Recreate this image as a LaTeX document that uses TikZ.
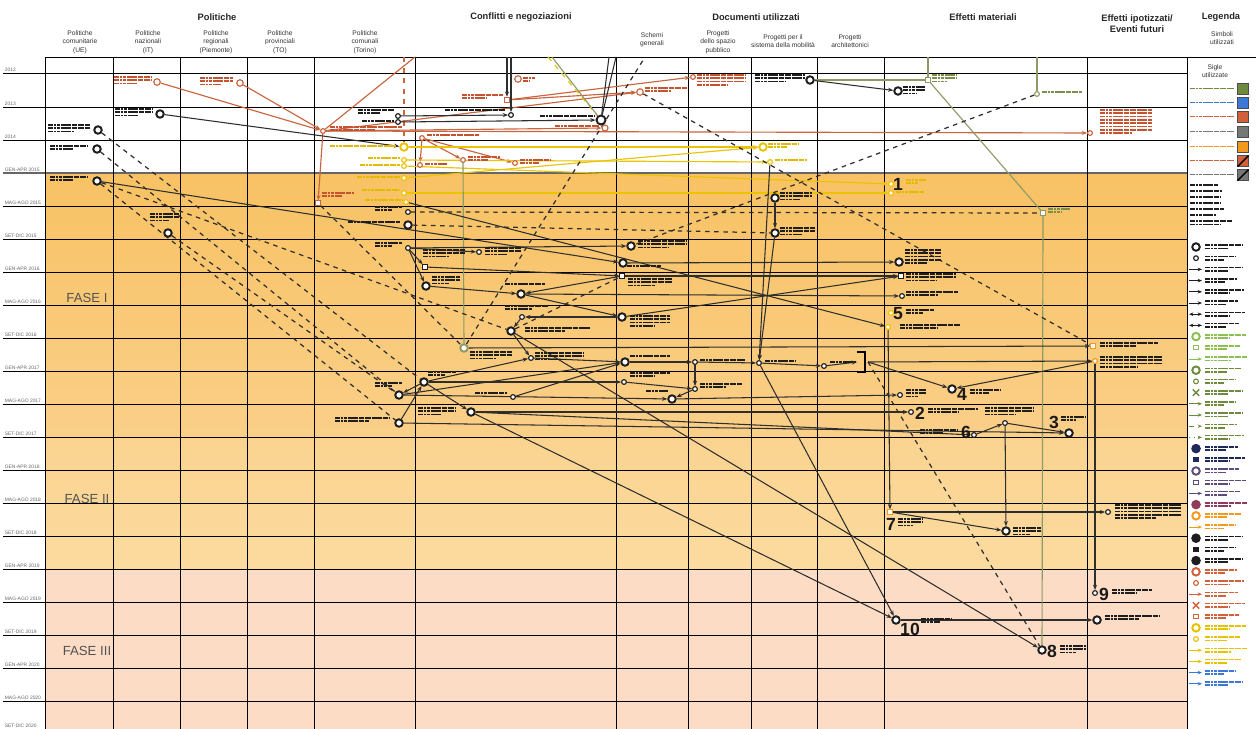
\documentclass[tikz,border=0pt]{standalone}
\usepackage{fontspec}
\setmainfont{Liberation Sans}
\usetikzlibrary{arrows.meta,shapes.misc}
\pgfdeclarelayer{back}\pgfdeclarelayer{mid}\pgfsetlayers{back,mid,main}
\definecolor{cline}{HTML}{2E2E2E}
\definecolor{cred}{HTML}{C9653E}
\definecolor{cyel}{HTML}{EBC300}
\definecolor{coli}{HTML}{8E9B66}
\definecolor{tblk}{HTML}{1E1E1E}
\definecolor{tred}{HTML}{C4532F}
\definecolor{tyel}{HTML}{E2BA00}
\definecolor{toli}{HTML}{7C8F4A}
\definecolor{Lk}{HTML}{1E1E1E}
\definecolor{Lg}{HTML}{8CC152}
\definecolor{Og}{HTML}{6E8B3D}
\definecolor{Nv}{HTML}{1F2A5A}
\definecolor{Pu}{HTML}{5E4A7A}
\definecolor{Mv}{HTML}{8E3B5E}
\definecolor{Or}{HTML}{F39A1E}
\definecolor{Rd}{HTML}{D2603A}
\definecolor{Yw}{HTML}{E8C200}
\definecolor{Bl}{HTML}{3B78D8}
\definecolor{Gy}{HTML}{777777}
\definecolor{faA}{HTML}{F8C264}
\definecolor{faB}{HTML}{FACF88}
\definecolor{fbA}{HTML}{FAD38F}
\definecolor{fbB}{HTML}{FCDBA0}
\definecolor{fc}{HTML}{FDDCC6}
\tikzset{
 bc/.style={circle, draw=tblk, fill=white, line width=1.1pt, minimum size=0.15cm, inner sep=0pt},
 sc/.style={circle, draw=tblk, fill=white, line width=0.65pt, minimum size=0.095cm, inner sep=0pt},
 sq/.style={rectangle, draw=tblk, fill=white, line width=0.65pt, minimum size=0.085cm, inner sep=0pt},
 rd/.style={draw=cred}, yl/.style={draw=cyel}, ol/.style={draw=coli},
 con/.style={draw=cline, line width=0.6pt},
 arr/.style={con, -{Stealth[length=3pt,width=2.3pt]}},
 dsh/.style={con, line width=0.7pt, dash pattern=on 2.6pt off 2.6pt},
 rcon/.style={draw=cred, line width=0.65pt},
 rarr/.style={rcon, -{Stealth[length=3pt,width=2.3pt]}},
 ycon/.style={draw=cyel, line width=0.65pt},
 yarr/.style={ycon, -{Stealth[length=3pt,width=2.3pt]}},
 ocon/.style={draw=coli, line width=0.65pt},
 blobst/.style={line width=1.0pt, dash pattern=on 3pt off 0.35pt on 1.2pt off 0.35pt on 2pt off 0.35pt on 4pt off 0.35pt on 1.6pt off 0.35pt},
 num/.style={font=\bfseries\fontsize{10}{10}\selectfont, text=black!90, inner sep=0pt},
 hdr/.style={font=\bfseries\fontsize{5.3}{6.6}\selectfont, text=black!85, inner sep=0pt, align=center},
 sub/.style={font=\fontsize{3.8}{4.8}\selectfont, align=center, text=black!80, inner sep=0pt},
 rowl/.style={font=\fontsize{2.8}{3}\selectfont, text=black!60, anchor=south west, inner sep=0.3pt},
 fase/.style={font=\fontsize{7.5}{8}\selectfont, text=black!68, inner sep=0pt},
 gridl/.style={draw=black, line width=0.55pt},
 sw/.style={rectangle, draw=black!70, line width=0.4pt, minimum size=0.21cm, inner sep=0pt},
 pics/Lbc/.style={code={\node[bc,draw=#1] (-n) at (0,0) {};}},
 pics/Lsc/.style={code={\node[sc,draw=#1] (-n) at (0,0) {};}},
 pics/Lsq/.style={code={\node[sq,draw=#1] (-n) at (0,0) {};}},
 pics/Lfc/.style={code={\node[bc,draw=#1,fill=#1] (-n) at (0,0) {};}},
 pics/Lfs/.style={code={\node[sq,draw=#1,fill=#1] (-n) at (0,0) {};}},
 pics/Lx/.style={code={\node[cross out,draw=#1,line width=0.8pt,minimum size=0.1cm,inner sep=0pt] (-n) at (0,0) {};}},
 pics/Lar/.style={code={\coordinate (-a) at (-7,0); \coordinate (-b) at (6,0); \draw[draw=#1,line width=0.55pt,-{Stealth[length=2.5pt,width=2pt]}] (-a) -- (-b);}},
 pics/Lda/.style={code={\coordinate (-a) at (-7,0); \coordinate (-b) at (6,0); \draw[draw=#1,line width=0.55pt,{Stealth[length=2.5pt,width=2pt]}-{Stealth[length=2.5pt,width=2pt]}] (-a) -- (-b);}},
 pics/Lds/.style={code={\coordinate (-a) at (-7,0); \coordinate (-b) at (6,0); \draw[draw=#1,line width=0.55pt,dashed,-{Stealth[length=2.5pt,width=2pt]}] (-a) -- (-b);}},
 pics/Ldt/.style={code={\coordinate (-a) at (-7,0); \coordinate (-b) at (6,0); \draw[draw=#1,line width=0.55pt,dotted,-{Stealth[length=2.5pt,width=2pt]}] (-a) -- (-b);}},
}
\newcommand\tb[5]{\foreach \kk in {1,...,#4}{\pgfmathsetmacro\ww{ifthenelse(and(\kk==#4,#4>1),0.62*(#3),#3)}\draw[blobst,draw=#5] (#1,{#2+3.3*(\kk-1)}) -- ++(\ww,0);}}
\begin{document}
\begin{tikzpicture}[x=0.02cm,y=-0.02cm]
\useasboundingbox (0,0) rectangle (1256,729);
\begin{pgfonlayer}{back}
\fill[white] (0,0) rectangle (1256,729);
\shade[top color=faA, bottom color=faB] (45,173) rectangle (1187,437);
\shade[top color=fbA, bottom color=fbB] (45,437) rectangle (1187,569);
\fill[fc] (45,569) rectangle (1187,729);
% grid
\draw[gridl] (45,57) -- (1256,57);
\foreach \yy in {73,107,140} {\draw[gridl] (3,\yy) -- (1187,\yy);}
\draw[draw=black!60, line width=1pt] (3,173) -- (1187,173);
\foreach \k in {1,...,16} {\draw[gridl] (3,{173+33*\k}) -- (1187,{173+33*\k});}
\foreach \xx in {45,113,180,247,314,415,616,688,751,817,884,1087,1187} {\draw[gridl] (\xx,57) -- (\xx,729);}
\end{pgfonlayer}
% headers
\node[hdr] (hP) at (217,17) {Politiche};
\node[hdr] (hC) at (521,17) {Conflitti e negoziazioni};
\node[hdr] (hD) at (756,17) {Documenti utilizzati};
\node[hdr] (hE) at (983,17) {Effetti materiali};
\node[hdr] (hF) at (1137,23.5) {Effetti ipotizzati/\\Eventi futuri};
\node[hdr] (hL) at (1221,17) {Legenda};
\node[sub] (s01) at (80,42) {Politiche\\comunitarie\\(UE)};
\node[sub] (s02) at (148,42) {Politiche\\nazionali\\(IT)};
\node[sub] (s03) at (216,42) {Politiche\\regionali\\(Piemonte)};
\node[sub] (s04) at (280,42) {Politiche\\provinciali\\(TO)};
\node[sub] (s05) at (365,42) {Politiche\\comunali\\(Torino)};
\node[sub] (s06) at (652,40) {Schemi\\generali};
\node[sub] (s07) at (718,42) {Progetti\\dello spazio\\pubblico};
\node[sub] (s08) at (783,41) {Progetti per il\\sistema della mobilità};
\node[sub] (s09) at (850,41) {Progetti\\architettonici};
\node[sub] (s10) at (1222,38) {Simboli\\utilizzati};
\node[sub] (s11) at (1215,71) {Sigle\\utilizzate};
% row labels
\foreach \yy/\lab [count=\j] in {73/2012,107/2013,140/2014,173/GEN-APR 2015,206/MAG-AGO 2015,239/SET-DIC 2015,272/GEN-APR 2016,305/MAG-AGO 2016,338/SET-DIC 2016,371/GEN-APR 2017,404/MAG-AGO 2017,437/SET-DIC 2017,470/GEN-APR 2018,503/MAG-AGO 2018,536/SET-DIC 2018,569/GEN-APR 2019,602/MAG-AGO 2019,635/SET-DIC 2019,668/GEN-APR 2020,701/MAG-AGO 2020,729/SET-DIC 2020}
 {\node[rowl] (rl\j) at (4,\yy-0.6) {\lab};}
\node[fase] (fa1) at (87,298) {FASE I};
\node[fase] (fa2) at (87,499) {FASE II};
\node[fase] (fa3) at (87,651) {FASE III};
% ---------- top area nodes
\node[bc] (u1) at (98,130) {}; \tb{48}{125}{42}{3}{tblk}
\node[bc] (u2) at (97,149) {}; \tb{50}{146}{38}{2}{tblk}
\node[bc] (u3) at (97,181) {}; \tb{50}{177}{38}{2}{tblk}
\node[sc,rd,minimum size=0.13cm] (i1) at (157,82) {}; \tb{114}{77}{38}{3}{tred}
\node[bc] (i2) at (160,114) {}; \tb{115}{109}{38}{3}{tblk}
\node[bc] (i3) at (168,233) {}; \tb{150}{214}{30}{3}{tblk}
\node[sc,rd,minimum size=0.13cm] (r1) at (240,83) {}; \tb{200}{78}{33}{3}{tred}
\node[sc,rd] (hub) at (323,131) {}; \tb{330}{127}{72}{2}{tred}
\node[sc] (c1) at (398,116) {}; \tb{358}{110}{36}{2}{tblk}
\node[sc] (c2) at (398,122) {}; \tb{362}{121}{32}{1}{tblk}
\node[bc,yl] (cy1) at (404,147) {}; \tb{330}{146}{66}{1}{tyel}
\node[sc,yl] (cy2) at (404,160) {}; \tb{368}{158}{32}{1}{tyel}
\node[sc,yl] (cy3) at (404,166) {}; \tb{360}{165}{40}{1}{tyel}
\node[sc,yl] (cy4) at (404,178) {}; \tb{357}{177}{43}{1}{tyel}
\node[sc,yl] (cy5) at (404,193) {}; \tb{362}{190}{38}{1}{tyel}
\node[sc,yl] (cy6) at (406,202) {}; \tb{365}{200}{37}{1}{tyel}
\node[sq,rd] (cr1) at (318,203) {}; \tb{322}{193}{32}{2}{tred}
\node[sc,rd] (k1) at (422,138) {}; \tb{427}{135}{52}{1}{tred}
\node[sq,rd,minimum size=0.11cm] (k2) at (507,100) {}; \tb{462}{95}{41}{2}{tred}
\node[sc] (k3) at (511,115) {}; \tb{445}{110}{60}{1}{tblk}
\node[sc,rd,minimum size=0.13cm] (k4) at (518,79) {}; \tb{523}{78}{12}{2}{tred}
\node[bc,minimum size=0.18cm] (k5) at (601,120) {}; \tb{540}{116}{54}{1}{tblk}
\node[sc,rd,minimum size=0.12cm] (k6) at (605,128) {}; \tb{555}{126}{44}{1}{tred}
\node[sc,rd] (k7) at (463,160) {}; \tb{468}{157}{32}{2}{tred}
\node[sc,rd] (k8) at (515,163) {}; \tb{520}{160}{30}{2}{tred}
\node[sc,rd] (k9) at (420,165) {}; \tb{425}{164}{22}{1}{tred}
\node[sc,rd,minimum size=0.13cm] (k10) at (640,92) {}; \tb{645}{88}{42}{2}{tred}
\node[sc,rd] (p0) at (693,77) {}; \tb{697}{75}{48}{4}{tred}
\node[bc] (m0) at (810,80) {}; \tb{755}{75}{50}{3}{tblk}
\node[bc] (e0) at (898,91) {}; \tb{903}{87}{22}{3}{tblk}
\node[sq,ol] (eg1) at (928,80) {}; \tb{932}{75}{24}{3}{toli}
\node[sc,ol] (eg2) at (1037,94) {}; \tb{1042}{92}{40}{1}{toli}
\node[sc,rd] (f0) at (1090,133) {}; \tb{1100}{110}{52}{8}{tred}
\node[bc,yl] (my1) at (763,147) {}; \tb{768}{144}{30}{2}{tyel}
\node[sc,yl] (my2) at (770,162) {}; \tb{775}{160}{32}{1}{tyel}
% ---------- orange area nodes
\node[sc] (o1) at (408,212) {}; \tb{375}{207}{27}{2}{tblk}
\node[bc] (o2) at (408,225) {}; \tb{348}{222}{52}{1}{tblk}
\node[sc] (o3) at (408,248) {}; \tb{375}{243}{27}{2}{tblk}
\node[sq] (o4) at (425,267) {}; \tb{423}{250}{42}{3}{tblk}
\node[bc] (o5) at (426,286) {}; \tb{432}{277}{28}{3}{tblk}
\node[sc] (o6) at (479,252) {}; \tb{485}{248}{36}{3}{tblk}
\node[bc] (o7) at (521,294) {}; \tb{505}{284}{40}{1}{tblk}
\node[sc] (o8) at (522,317) {}; \tb{505}{306}{43}{2}{tblk}
\node[bc] (o9) at (511,331) {}; \tb{525}{328}{65}{2}{tblk}
\node[bc,ol] (o10) at (464,348) {}; \tb{470}{352}{42}{3}{tblk}
\node[sc] (o11) at (531,358) {}; \tb{535}{353}{48}{3}{tblk}
\node[bc] (o12) at (424,382) {}; \tb{428}{372}{28}{2}{tblk}
\node[bc] (o13) at (399,395) {}; \tb{375}{383}{27}{2}{tblk}
\node[bc] (o14) at (471,412) {}; \tb{418}{408}{38}{3}{tblk}
\node[sc] (o15) at (513,397) {}; \tb{475}{393}{32}{1}{tblk}
\node[bc] (o16) at (399,423) {}; \tb{335}{418}{55}{2}{tblk}
\node[bc] (s1) at (631,246) {}; \tb{638}{241}{48}{3}{tblk}
\node[bc] (s2) at (623,263) {}; \tb{627}{266}{34}{1}{tblk}
\node[sq] (s3) at (622,276) {}; \tb{628}{279}{44}{3}{tblk}
\node[bc] (s4) at (622,317) {}; \tb{630}{316}{40}{4}{tblk}
\node[bc] (s5) at (625,362) {}; \tb{630}{356}{40}{1}{tblk}
\node[sc] (s6) at (624,382) {}; \tb{630}{373}{40}{2}{tblk}
\node[sc] (p1) at (695,362) {}; \tb{700}{360}{45}{1}{tblk}
\node[sc] (p2) at (695,389) {}; \tb{700}{384}{42}{2}{tblk}
\node[bc] (p3) at (672,399) {}; \tb{646}{391}{22}{1}{tblk}
\node[bc] (m1) at (775,198) {}; \tb{780}{193}{32}{3}{tblk}
\node[bc] (m2) at (775,233) {}; \tb{780}{228}{35}{3}{tblk}
\node[sc] (m3) at (759,363) {}; \tb{765}{361}{30}{1}{tblk}
\node[sc] (a1) at (824,366) {}; \tb{830}{362}{26}{1}{tblk}
\coordinate (br1) at (857,352); \coordinate (br2) at (865,352);
\coordinate (br3) at (865,372); \coordinate (br4) at (857,372);
\coordinate (brm) at (868,362);
\draw[line width=1.2pt, draw=black] (br1) -- (br2) -- (br3) -- (br4);
\node[sc,yl] (e1y) at (891,184) {}; \node[num] (n1) at (898,184) {1}; \tb{906}{180}{20}{2}{tyel}
\node[sc,yl] (e1z) at (891,193) {}; \tb{896}{192}{28}{1}{tyel}
\node[sq,ol] (eg3) at (1043,213) {}; \tb{1048}{209}{22}{2}{toli}
\node[bc] (e2) at (899,262) {}; \tb{905}{250}{36}{5}{tblk}
\node[sq] (e3) at (901,276) {}; \tb{906}{274}{50}{3}{tblk}
\node[sc] (e4) at (902,296) {}; \tb{906}{292}{52}{2}{tblk}
\node[sc,yl] (e5a) at (891,313) {}; \node[num] (n5) at (898,314) {5}; \tb{906}{310}{28}{2}{tblk}
\node[sc,yl] (e5y) at (888,327) {}; \tb{900}{325}{60}{2}{tblk}
\node[sc] (e6) at (900,395) {}; \tb{906}{390}{20}{3}{tblk}
\node[bc] (e7) at (952,389) {}; \node[num] (n4) at (962,394) {4}; \tb{970}{390}{30}{2}{tblk}
\node[sc] (e8) at (911,412) {}; \node[num] (n2) at (920,413) {2}; \tb{928}{409}{50}{2}{tblk}
\node[sc] (e9) at (1005,423) {}; \tb{985}{408}{48}{3}{tblk}
\node[sc] (e10) at (974,435) {}; \node[num] (n6) at (966,432) {6}; \tb{920}{430}{38}{2}{tblk}
\node[bc] (e11) at (1069,433) {}; \node[num] (n3) at (1054,422) {3}; \tb{1061}{417}{24}{2}{tblk}
\node[sq,draw=Or] (e12) at (890,512) {}; \node[num] (n7) at (891,524) {7}; \tb{898}{519}{24}{3}{tblk}
\node[bc] (e13) at (1006,531) {}; \tb{1013}{528}{28}{3}{tblk}
\node[bc] (e14) at (896,620) {}; \node[num] (n10) at (910,629) {10}; \tb{921}{619}{30}{2}{tblk}
\node[bc] (e15) at (1042,650) {}; \node[num] (n8) at (1052,651) {8}; \tb{1060}{646}{26}{3}{tblk}
\node[sq,draw=Or] (f1) at (1093,346) {}; \tb{1100}{343}{58}{2}{tblk}
\node[sc,draw=Or] (f2) at (1095,361) {}; \tb{1100}{357}{62}{4}{tblk}
\node[sc] (f3) at (1108,512) {}; \tb{1115}{505}{66}{5}{tblk}
\node[sc] (f4) at (1095,593) {}; \node[num] (n9) at (1104,594) {9}; \tb{1112}{590}{40}{2}{tblk}
\node[bc] (f5) at (1097,620) {}; \tb{1105}{616}{55}{2}{tblk}
% top-edge coordinates
\coordinate (t1) at (415,57); \coordinate (t2) at (507,57); \coordinate (t3) at (511,57);
\coordinate (t4) at (552,57); \coordinate (t5) at (609,57); \coordinate (t6) at (616,57);
\coordinate (t7) at (645,57); \coordinate (t8) at (928,57); \coordinate (t9) at (1037,57);
\coordinate (t10) at (548,57); \coordinate (t11) at (404,57);
% ---------- connectors
\begin{pgfonlayer}{mid}
% red
\draw[rarr] (i1) -- (hub); \draw[rarr] (r1) -- (hub); \draw[rcon] (hub) -- (t1);
\draw[rarr] (hub) -- (cr1); \draw[rarr] (hub) -- (f0); \draw[rarr] (hub) -- (k6);
\draw[rarr] (hub) -- (k10); \draw[rarr] (k2) -- (p0); \draw[rarr] (k2) -- (k10);
\draw[rarr] (k1) -- (k7); \draw[rarr] (k1) -- (k8); \draw[rarr] (k1) -- (k9);
\draw[rcon, dashed] (t11) -- (cy1);
% yellow
\draw[yarr] (cy1) -- (my1); \draw[yarr] (cy2) -- (my2); \draw[yarr] (cy3) -- (e1y);
\draw[yarr] (cy5) -- (e1z); \draw[yarr] (cy4) -- (my1);
\draw[ycon, dashed] (t10) -- (k5);
% olive
\draw[ocon] (t4) -- (k5); \draw[ocon] (k7) -- (o10); \draw[ocon] (t8) -- (eg1);
\draw[ocon] (t9) -- (eg2); \draw[ocon] (eg1) -- (eg3); \draw[ocon] (eg3) -- (e15);
\draw[ocon] (m0) -- (eg1);
% black solid
\draw[arr] (t2) -- (k2); \draw[arr] (t3) -- (k3); \draw[con] (t5) -- (k5); \draw[con] (t6) -- (k5);
\draw[arr] (c1) -- (k3); \draw[arr] (c2) -- (k5); \draw[arr] (i2) -- (cy1);
\draw[arr] (u3) -- (s2); \draw[arr] (cy6) -- (e5y);
\draw[arr] (o3) -- (o4); \draw[arr] (o3) -- (o5); \draw[arr] (o3) -- (o6); \draw[arr] (o3) -- (s1);
\draw[arr] (o4) -- (s3); \draw[arr] (o5) -- (o7); \draw[arr] (o7) -- (s4); \draw[arr] (s3) -- (o7);
\draw[arr] (s4) -- (o8); \draw[arr] (o8) -- (o9); \draw[arr] (o9) -- (o11); \draw[arr] (o11) -- (s5);
\draw[arr] (o12) -- (o11); \draw[arr] (o12) -- (s6); \draw[arr] (o16) -- (o12); \draw[arr] (o12) -- (o13);
\draw[arr] (o13) -- (s5); \draw[arr] (o13) -- (p3); \draw[arr] (p3) -- (e6);
\draw[arr] (o14) -- (e8); \draw[arr] (o14) -- (e10); \draw[arr] (o16) -- (e11);
\draw[arr] (o14) -- (e14); \draw[arr] (o12) -- (o14); \draw[arr] (o9) -- (e15); \draw[arr] (m3) -- (e14);
\draw[arr] (s5) -- (p1); \draw[arr] (p1) -- (m3); \draw[arr] (m3) -- (a1); \draw[arr] (a1) -- (br1 |- brm);
\draw[arr] (p1) -- (p2); \draw[arr] (p2) -- (p3); \draw[arr] (s6) -- (p2);
\draw[arr] (m1) -- (m2); \draw[arr] (m2) -- (m3); \draw[arr] (my2) -- (m3);
\draw[arr] (s4) -- (e3); \draw[arr] (s2) -- (e2); \draw[arr] (s3) -- (e3); \draw[arr] (o7) -- (e4);
\draw[arr] (brm) -- (e7); \draw[arr] (f2) -- (e7); \draw[arr] (brm) -- (f2); \draw[arr] (o10) -- (f1);
\draw[arr] (e5y) -- (e12); \draw[arr] (e12) -- (e13); \draw[arr] (e12) -- (f3);
\draw[arr] (e9) -- (e13); \draw[arr] (e10) -- (e9); \draw[arr] (e9) -- (e11);
\draw[arr] (f2) -- (f4); \draw[arr] (e14) -- (f5); \draw[arr] (m0) -- (e0); \draw[arr] (o15) -- (s5);
% black dashed
\draw[dsh] (o1) -- (eg3); \draw[dsh] (o2) -- (m2);
\draw[dsh] (u1) -- (o12); \draw[dsh] (u2) -- (o13); \draw[dsh] (u3) -- (o16); \draw[dsh] (i3) -- (o13);
\draw[dsh] (u3) -- (o9); \draw[dsh] (cr1) -- (o10); \draw[dsh] (o10) -- (t7); \draw[dsh] (o9) -- (s3);
\draw[dsh] (k10) -- (f1); \draw[dsh] (eg2) -- (s1); \draw[dsh] (brm) -- (e15);
\end{pgfonlayer}
% ---------- legend
\foreach \cc/\yy [count=\i] in {Og/89,Bl/103,Rd/117,Gy/132,Or/147,Rd/161,Gy/175}
 {\node[sw, fill=\cc] (sw\i) at (1243,\yy) {}; \tb{1190}{\yy-0.5}{44}{1}{\cc}}
\draw[line width=0.8pt] (sw6.south west) -- (sw6.north east);
\draw[line width=0.8pt] (sw7.south west) -- (sw7.north east);
\foreach \yy/\w [count=\i] in {185/28,191/32,197/30,203/30,209/34,215/26,221/42,224.5/30}
 {\tb{1190}{\yy}{\w}{1}{tblk}}
\foreach \t/\c [count=\i] in {bc/Lk,sc/Lk,ar/Lk,ar/Lk,ar/Lk,ar/Lk,da/Lk,da/Lk,bc/Lg,sq/Lg,ar/Lg,bc/Og,sc/Og,x/Og,ar/Og,ar/Og,ds/Og,dt/Og,fc/Nv,fs/Nv,bc/Pu,sq/Pu,ar/Pu,fc/Mv,bc/Or,ar/Or,fc/Lk,fs/Lk,fc/Lk,bc/Rd,sc/Rd,ar/Rd,x/Rd,sq/Rd,bc/Yw,sc/Yw,ar/Yw,ar/Yw,ar/Bl,ar/Bl}
 {\pgfmathsetmacro\yy{247+11.2*(\i-1)}
  \pgfmathsetmacro\lw{30+mod(7*\i,13)}
  \edef\tmp{\noexpand\pic (L\i) at (1196,\yy) {L\t=\c};}\tmp
  \tb{1205}{\yy-1.8}{\lw}{2}{\c}}
\end{tikzpicture}
\end{document}
